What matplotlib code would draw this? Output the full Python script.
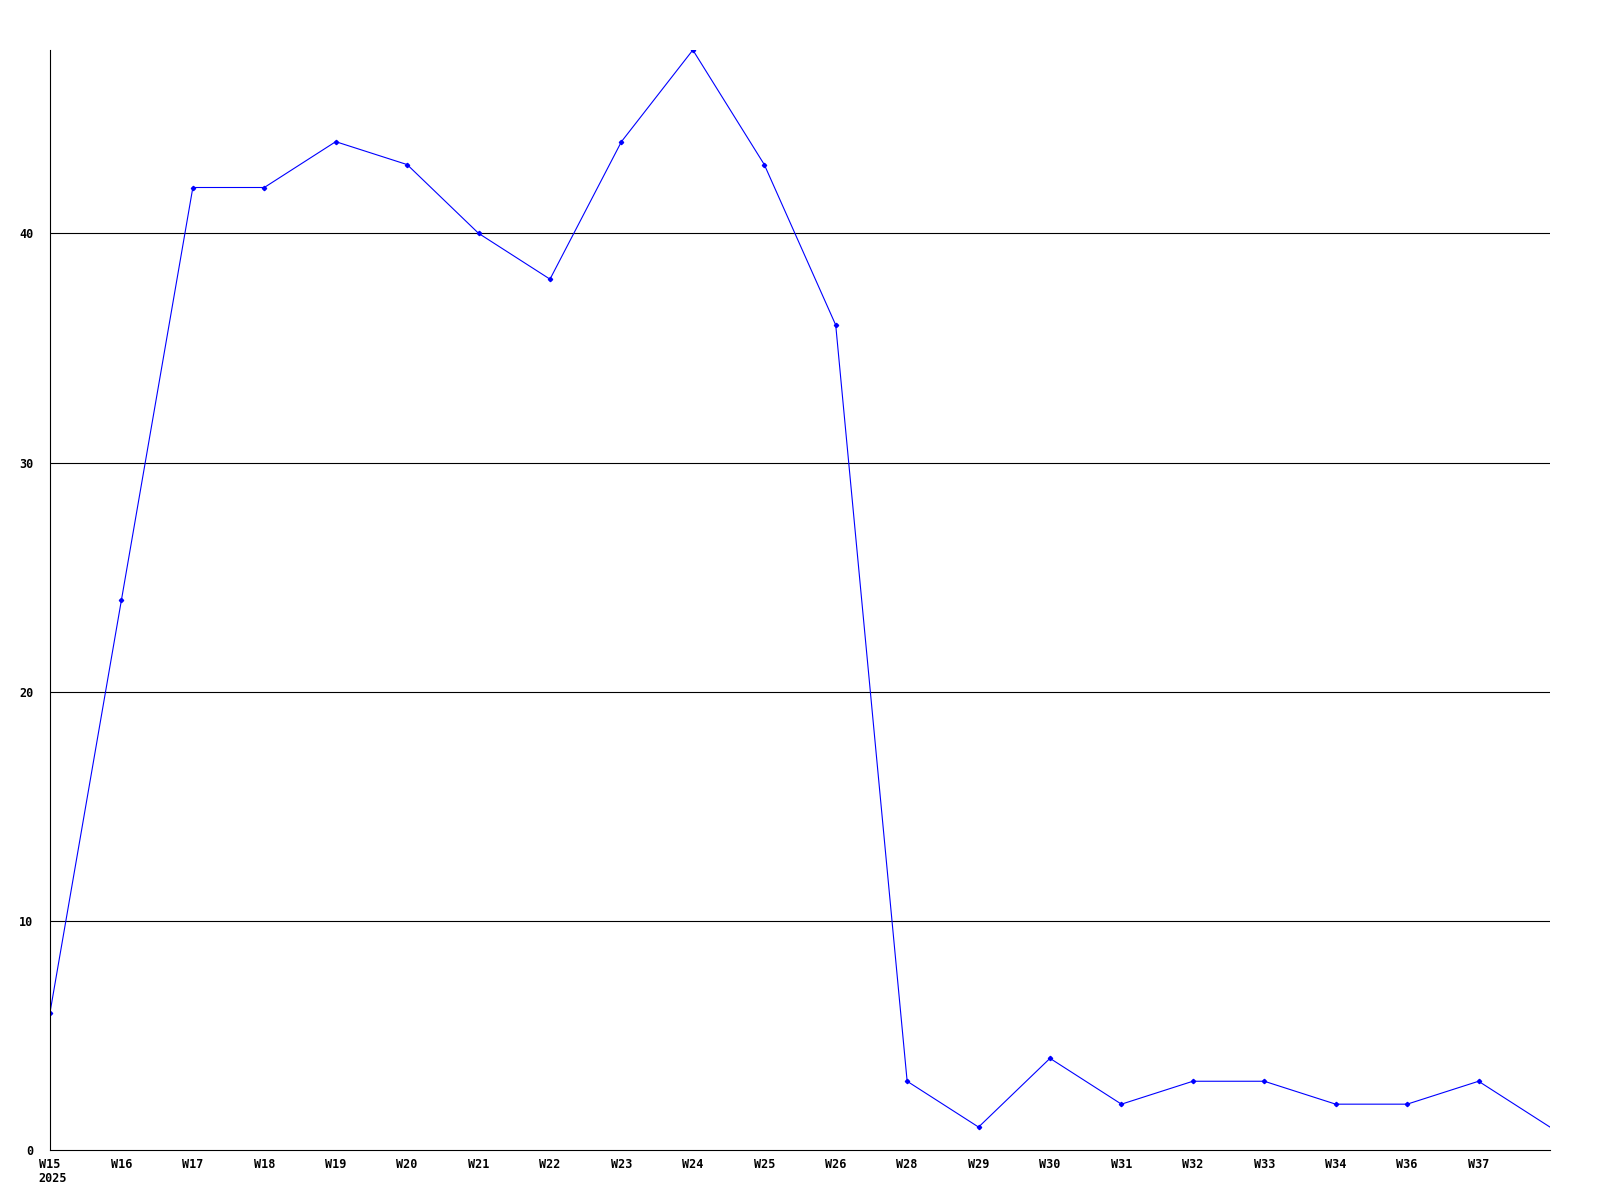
import matplotlib
matplotlib.use("Agg")
from matplotlib import pyplot as plt
from matplotlib import transforms

weeks = ["W15", "W16", "W17", "W18", "W19", "W20", "W21", "W22", "W23", "W24", "W25",
         "W26", "W28", "W29", "W30", "W31", "W32", "W33", "W34", "W36", "W37", ""]
counts = [6, 24, 42, 42, 44, 43, 40, 38, 44, 48, 43, 36, 3, 1, 4, 2, 3, 3, 2, 2, 3, 1]
yticks = [0, 10, 20, 30, 40]
year = "2025"

fig = plt.figure(figsize=(16, 12), dpi=100)
ax = fig.add_axes([50 / 1600, 50 / 1200, 1500 / 1600, 1100 / 1200])

xs = list(range(len(counts)))
ax.plot(xs, counts, color="#0000ff", lw=0.8, marker="D", markersize=2.2,
        markevery=list(range(len(counts) - 1)))

ax.set_xlim(0, len(counts) - 1)
ax.set_ylim(0, 48)
for y in yticks[1:]:
    ax.axhline(y, color="black", lw=0.8, zorder=0)

for s in ["top", "right"]:
    ax.spines[s].set_visible(False)
ax.spines["left"].set_linewidth(0.8)
ax.spines["bottom"].set_linewidth(0.8)

font = dict(family="DejaVu Sans Mono", fontweight="bold", fontsize=8.5)
ax.set_yticks(yticks)
ax.set_yticklabels([str(v) for v in yticks], **font)
ax.tick_params(axis="y", length=0, pad=12)

ax.set_xticks(xs[:-1])
ax.set_xticklabels(weeks[:-1], ha="center", va="top", **font)
ax.tick_params(axis="x", length=0, pad=6)

# year under the first week label
tr = transforms.blended_transform_factory(ax.transData, ax.transAxes)
ax.text(0, 0, year, transform=tr + transforms.ScaledTranslation(-12 / 100, -22 / 100, fig.dpi_scale_trans),
        ha="left", va="top", **font)

fig.savefig("out.png", dpi=100)
